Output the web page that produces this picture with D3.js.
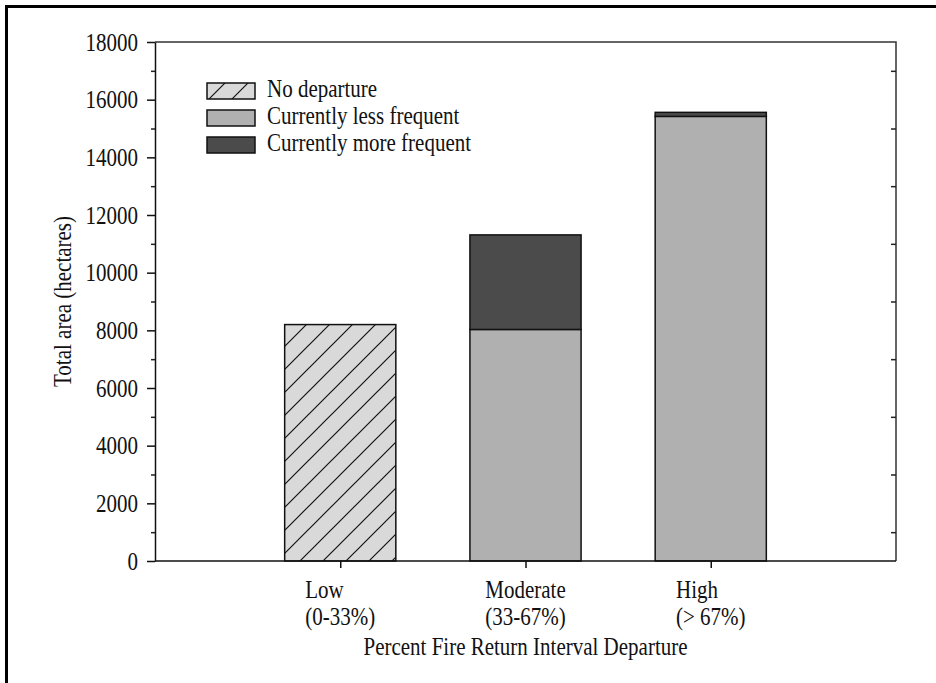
<!DOCTYPE html>
<html>
<head>
<meta charset="utf-8">
<script src="https://cdn.jsdelivr.net/npm/d3@7"></script>
<style>
  body { margin: 0; background: #fff; }
  svg text { font-family: "Liberation Serif", "Times New Roman", serif; fill: #111; }
</style>
</head>
<body>
<svg id="chart" width="936" height="683"></svg>
<script>
// data (hectares)
const categories = ["Low", "Moderate", "High"];
const categoryRanges = ["(0-33%)", "(33-67%)", "(> 67%)"];
const noDeparture = [8200, 0, 0];
const lessFrequent = [0, 8030, 15420];
const moreFrequent = [0, 3280, 140];
const seriesNames = ["No departure", "Currently less frequent", "Currently more frequent"];
const majorTicks = [0, 2000, 4000, 6000, 8000, 10000, 12000, 14000, 16000, 18000];
const minorTicks = [1000, 3000, 5000, 7000, 9000, 11000, 13000, 15000, 17000];

const svg = d3.select("#chart");
const plotLeft = 155, plotRight = 896, plotTop = 42, plotBottom = 561;
const fontSize = 21, stretch = 1.2;

const x = d3.scalePoint().domain(categories).range([plotLeft, plotRight]).padding(1);
const y = d3.scaleLinear().domain([0, 18000]).range([plotBottom, plotTop]);
const barWidth = x.step() * 0.6;

const colors = {
    "Currently less frequent": "#b0b0b0",
    "Currently more frequent": "#4b4b4b"
};

// hatch patterns
const defs = svg.append("defs");
function hatch(id, offset) {
    const p = defs.append("pattern")
        .attr("id", id)
        .attr("patternUnits", "userSpaceOnUse")
        .attr("x", offset)
        .attr("width", 23)
        .attr("height", 23);
    p.append("rect").attr("width", 23).attr("height", 23).attr("fill", "#d9d9d9");
    p.append("path")
        .attr("d", "M0,23 L23,0 M-3,3 L3,-3 M20,26 L26,20")
        .attr("stroke", "#111")
        .attr("stroke-width", 1.2);
}
hatch("hatch", 10);
hatch("hatchLegend", 18);

// outer frame of the figure
svg.append("path")
    .attr("d", "M6.5,683 V6.5 H936")
    .attr("fill", "none")
    .attr("stroke", "#000")
    .attr("stroke-width", 3);

function stretchedText(g, tx, ty, str) {
    return g.append("text")
        .attr("transform", "translate(" + tx + "," + ty + ") scale(1," + stretch + ")")
        .style("font-size", fontSize + "px")
        .text(str);
}

// bars
const stacks = [];
categories.forEach(function(c, i) {
    let base = 0;
    [["No departure", noDeparture[i]], ["Currently less frequent", lessFrequent[i]], ["Currently more frequent", moreFrequent[i]]]
        .forEach(function(s) {
            if (s[1] > 0) {
                stacks.push({cat: c, name: s[0], y0: base, y1: base + s[1]});
                base += s[1];
            }
        });
});

svg.append("g").selectAll("rect")
    .data(stacks).enter()
    .append("rect")
    .attr("x", d => x(d.cat) - barWidth / 2)
    .attr("y", d => y(d.y1))
    .attr("width", barWidth)
    .attr("height", d => y(d.y0) - y(d.y1))
    .attr("fill", d => d.name === "No departure" ? "url(#hatch)" : colors[d.name])
    .attr("stroke", "#111")
    .attr("stroke-width", 1.5);

// frame top / right
svg.append("path")
    .attr("d", "M" + plotLeft + "," + plotTop + " H" + plotRight + " V" + plotBottom)
    .attr("fill", "none")
    .attr("stroke", "#333")
    .attr("stroke-width", 1.5);

// right axis: odd thousands, inward ticks
svg.append("g")
    .attr("transform", "translate(" + plotRight + ",0)")
    .call(d3.axisLeft(y).tickValues(minorTicks).tickSize(5).tickFormat(""))
    .call(g => g.select(".domain").remove())
    .call(g => g.selectAll("line").attr("stroke", "#222").attr("stroke-width", 1.5));

// left axis minor
svg.append("g")
    .attr("transform", "translate(" + plotLeft + ",0)")
    .call(d3.axisLeft(y).tickValues(minorTicks).tickSize(4).tickFormat(""))
    .call(g => g.select(".domain").remove())
    .call(g => g.selectAll("line").attr("stroke", "#222").attr("stroke-width", 1.5));

// left axis major
svg.append("g")
    .attr("transform", "translate(" + plotLeft + ",0)")
    .call(d3.axisLeft(y).tickValues(majorTicks).tickSize(8).tickSizeOuter(0).tickPadding(9).tickFormat(d3.format("d")))
    .call(g => g.select(".domain").attr("stroke", "#111").attr("stroke-width", 1.5))
    .call(g => g.selectAll("line").attr("stroke", "#111").attr("stroke-width", 1.5))
    .call(g => g.selectAll("text")
        .attr("font-family", null)
        .attr("font-size", null)
        .style("font-size", fontSize + "px")
        .attr("dy", "0.32em")
        .attr("transform", "scale(1," + stretch + ")"));

// bottom axis
svg.append("g")
    .attr("transform", "translate(0," + plotBottom + ")")
    .call(d3.axisBottom(x).tickSize(7).tickSizeOuter(0).tickFormat(""))
    .call(g => g.select(".domain").attr("stroke", "#111").attr("stroke-width", 1.5).attr("d", "M" + plotLeft + ",0H" + plotRight))
    .call(g => g.selectAll("line").attr("stroke", "#111").attr("stroke-width", 1.5));

// category labels: two left-aligned lines, block centred on tick
const catG = svg.append("g");
categories.forEach(function(c, i) {
    const t1 = stretchedText(catG, 0, 598, c);
    const t2 = stretchedText(catG, 0, 625, categoryRanges[i]);
    const w = Math.max(t1.node().getComputedTextLength(), t2.node().getComputedTextLength());
    const lx = x(c) - w / 2;
    t1.attr("transform", "translate(" + lx + ",598) scale(1," + stretch + ")");
    t2.attr("transform", "translate(" + lx + ",625) scale(1," + stretch + ")");
});

// axis titles
stretchedText(svg, (plotLeft + plotRight) / 2, 655, "Percent Fire Return Interval Departure")
    .attr("text-anchor", "middle");
svg.append("text")
    .attr("transform", "translate(71," + ((plotTop + plotBottom) / 2) + ") rotate(-90) scale(1," + stretch + ")")
    .attr("text-anchor", "middle")
    .style("font-size", fontSize + "px")
    .text("Total area (hectares)");

// legend
const legend = svg.append("g").attr("transform", "translate(207,83)");
seriesNames.forEach(function(name, i) {
    const row = legend.append("g").attr("transform", "translate(0," + (i * 27) + ")");
    row.append("rect")
        .attr("width", 48)
        .attr("height", 16)
        .attr("fill", name === "No departure" ? "url(#hatchLegend)" : colors[name])
        .attr("stroke", "#111")
        .attr("stroke-width", 1.5);
    stretchedText(row, 60, 14, name);
});
</script>
</body>
</html>
